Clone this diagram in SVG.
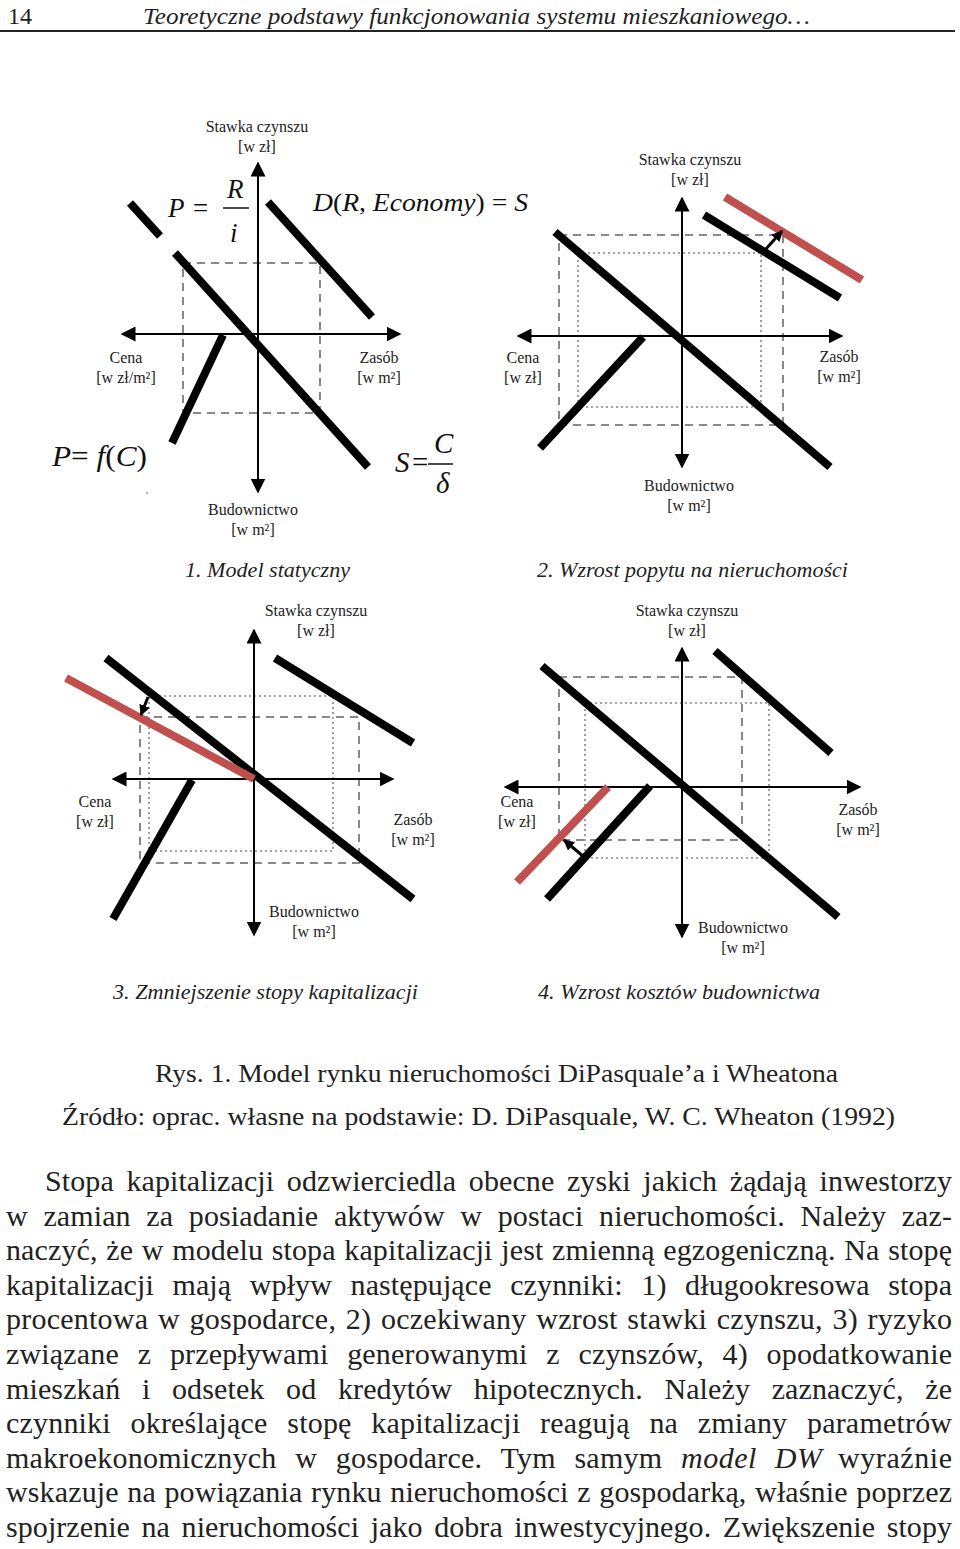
<svg xmlns="http://www.w3.org/2000/svg" width="960" height="1549" viewBox="0 0 960 1549">
<style>
.lbl{font-family:"Liberation Serif",serif;font-size:16px;fill:#222;text-anchor:middle}
.sub{font-family:"Liberation Serif",serif;font-style:italic;font-size:21px;fill:#222}
.m{font-family:"Liberation Serif",serif;font-style:italic;font-size:29px;fill:#111}
.u{font-style:normal}
.thick{stroke:#000;stroke-width:8;fill:none}
.red{stroke:#c0504d;stroke-width:8;fill:none}
.axis{stroke:#000;stroke-width:2;fill:none;marker-start:url(#ah);marker-end:url(#ah)}
.dash{stroke:#888;stroke-width:2;stroke-dasharray:8 6;fill:none}
.dot{stroke:#888;stroke-width:1.6;stroke-dasharray:2 3;fill:none}
.sm{stroke:#000;stroke-width:3;fill:none;marker-end:url(#sa)}
.body{font-family:"Liberation Serif",serif;font-size:30px;fill:#222}
.cap{font-family:"Liberation Serif",serif;font-size:26px;fill:#222}
</style>
<defs>
<marker id="ah" viewBox="0 0 10 10" refX="9" refY="5" markerWidth="15" markerHeight="15" markerUnits="userSpaceOnUse" orient="auto-start-reverse"><path d="M0,0 L10,5 L0,10 z" fill="#000"/></marker>
<marker id="sa" viewBox="0 0 10 10" refX="9" refY="5" markerWidth="11" markerHeight="11" markerUnits="userSpaceOnUse" orient="auto"><path d="M0,0 L10,5 L0,10 z" fill="#000"/></marker>
</defs>
<rect width="960" height="1549" fill="#fff"/>

<g id="header">
<text x="8" y="24" style="font-family:'Liberation Serif',serif;font-size:24px;fill:#222">14</text>
<text x="143" y="24" textLength="667" lengthAdjust="spacingAndGlyphs" style="font-family:'Liberation Serif',serif;font-style:italic;font-size:24px;fill:#222">Teoretyczne podstawy funkcjonowania systemu mieszkaniowego…</text>
<line x1="0" y1="31" x2="955" y2="31" stroke="#222" stroke-width="2"/>
</g>

<g id="panel1">
<rect class="dash" x="183" y="263" width="137" height="150"/>
<line class="axis" x1="258" y1="492" x2="258" y2="163"/>
<line class="axis" x1="122" y1="334" x2="400" y2="334"/>
<line class="thick" x1="130" y1="203" x2="160" y2="236"/>
<line class="thick" x1="175" y1="253" x2="368" y2="467"/>
<line class="thick" x1="268" y1="202" x2="372" y2="317"/>
<line class="thick" x1="223" y1="335" x2="172" y2="443"/>
<text class="lbl" x="257" y="132">Stawka czynszu</text>
<text class="lbl" x="257" y="152">[w zł]</text>
<text class="lbl" x="126" y="363">Cena</text>
<text class="lbl" x="126" y="383">[w zł/m²]</text>
<text class="lbl" x="379" y="363">Zasób</text>
<text class="lbl" x="379" y="383">[w m²]</text>
<text class="lbl" x="253" y="515">Budownictwo</text>
<text class="lbl" x="253" y="535">[w m²]</text>
<text class="m" x="168" y="217" style="font-size:27px">P</text>
<text class="m u" x="193" y="217" style="font-size:27px">=</text>
<text class="m" x="227" y="198" style="font-size:27px">R</text>
<line x1="223" y1="208" x2="249" y2="208" stroke="#111" stroke-width="1.5"/>
<text class="m" x="230" y="242" style="font-size:27px">i</text>
<text class="m" x="313" y="211" style="font-size:26px" textLength="215" lengthAdjust="spacingAndGlyphs">D<tspan class="u">(</tspan>R<tspan class="u">, </tspan>Economy<tspan class="u">) = </tspan>S</text>
<text class="m" x="52" y="466" textLength="95" lengthAdjust="spacingAndGlyphs">P<tspan class="u">= </tspan>f<tspan class="u">(</tspan>C<tspan class="u">)</tspan></text>
<text class="m" x="395" y="472">S</text>
<text class="m u" x="412" y="472">=</text>
<text class="m" x="434" y="453">C</text>
<line x1="428" y1="464" x2="453" y2="464" stroke="#111" stroke-width="1.5"/>
<text class="m" x="436" y="493">δ</text>
<circle cx="147" cy="493" r="0.8" fill="#555"/>
<text class="sub" x="185" y="577" textLength="165" lengthAdjust="spacingAndGlyphs">1. Model statyczny</text>
</g>

<g id="panel2">
<rect class="dash" x="559" y="235" width="224" height="190"/>
<rect class="dot" x="578" y="253" width="183" height="154"/>
<line class="axis" x1="682" y1="467" x2="682" y2="198"/>
<line class="axis" x1="518" y1="336" x2="842" y2="336"/>
<line class="thick" x1="555" y1="232" x2="830" y2="467"/>
<line class="thick" x1="704" y1="215" x2="840" y2="298"/>
<line class="red" x1="725" y1="197" x2="862" y2="280"/>
<line class="thick" x1="643" y1="337" x2="540" y2="448"/>
<line class="sm" x1="765" y1="250" x2="782" y2="231"/>
<text class="lbl" x="690" y="165">Stawka czynszu</text>
<text class="lbl" x="690" y="185">[w zł]</text>
<text class="lbl" x="523" y="363">Cena</text>
<text class="lbl" x="523" y="383">[w zł]</text>
<text class="lbl" x="839" y="362">Zasób</text>
<text class="lbl" x="839" y="382">[w m²]</text>
<text class="lbl" x="689" y="491">Budownictwo</text>
<text class="lbl" x="689" y="511">[w m²]</text>
<text class="sub" x="537" y="577" textLength="311" lengthAdjust="spacingAndGlyphs">2. Wzrost popytu na nieruchomości</text>
</g>

<g id="panel3">
<rect class="dash" x="140" y="717" width="219" height="146"/>
<rect class="dot" x="149" y="696" width="184" height="155"/>
<line class="axis" x1="254" y1="935" x2="254" y2="630"/>
<line class="axis" x1="113" y1="779" x2="393" y2="779"/>
<line class="thick" x1="106" y1="658" x2="413" y2="899"/>
<line class="thick" x1="275" y1="658" x2="413" y2="743"/>
<line class="red" x1="66" y1="678" x2="254" y2="779"/>
<line class="thick" x1="192" y1="780" x2="113" y2="919"/>
<line class="sm" x1="148" y1="697" x2="141" y2="715"/>
<text class="lbl" x="316" y="616">Stawka czynszu</text>
<text class="lbl" x="316" y="636">[w zł]</text>
<text class="lbl" x="95" y="807">Cena</text>
<text class="lbl" x="95" y="827">[w zł]</text>
<text class="lbl" x="413" y="825">Zasób</text>
<text class="lbl" x="413" y="845">[w m²]</text>
<text class="lbl" x="314" y="917">Budownictwo</text>
<text class="lbl" x="314" y="937">[w m²]</text>
<text class="sub" x="113" y="999" textLength="305" lengthAdjust="spacingAndGlyphs">3. Zmniejszenie stopy kapitalizacji</text>
</g>

<g id="panel4">
<rect class="dash" x="559" y="677" width="183" height="163"/>
<rect class="dot" x="585" y="703" width="184" height="155"/>
<line class="axis" x1="682" y1="937" x2="682" y2="648"/>
<line class="axis" x1="505" y1="787" x2="860" y2="787"/>
<line class="thick" x1="542" y1="666" x2="838" y2="917"/>
<line class="thick" x1="715" y1="651" x2="831" y2="753"/>
<line class="thick" x1="650" y1="786" x2="547" y2="899"/>
<line class="red" x1="608" y1="787" x2="517" y2="882"/>
<line class="sm" x1="584" y1="857" x2="564" y2="840"/>
<text class="lbl" x="687" y="616">Stawka czynszu</text>
<text class="lbl" x="687" y="636">[w zł]</text>
<text class="lbl" x="517" y="807">Cena</text>
<text class="lbl" x="517" y="827">[w zł]</text>
<text class="lbl" x="858" y="815">Zasób</text>
<text class="lbl" x="858" y="835">[w m²]</text>
<text class="lbl" x="743" y="933">Budownictwo</text>
<text class="lbl" x="743" y="953">[w m²]</text>
<text class="sub" x="538" y="999" textLength="282" lengthAdjust="spacingAndGlyphs">4. Wzrost kosztów budownictwa</text>
</g>

<g id="caption">
<text class="cap" x="155" y="1082" textLength="683" lengthAdjust="spacingAndGlyphs">Rys. 1. Model rynku nieruchomości DiPasquale’a i Wheatona</text>
<text class="cap" x="62" y="1125" textLength="833" lengthAdjust="spacingAndGlyphs">Źródło: oprac. własne na podstawie: D. DiPasquale, W. C. Wheaton (1992)</text>
</g>

<g id="body">
<text class="body" x="45" y="1191" word-spacing="5" textLength="907" lengthAdjust="spacing">Stopa kapitalizacji odzwierciedla obecne zyski jakich żądają inwestorzy</text>
<text class="body" x="6" y="1226" word-spacing="8" textLength="946" lengthAdjust="spacing">w zamian za posiadanie aktywów w postaci nieruchomości. Należy zaz-</text>
<text class="body" x="6" y="1260" word-spacing="1" textLength="946" lengthAdjust="spacing">naczyć, że w modelu stopa kapitalizacji jest zmienną egzogeniczną. Na stopę</text>
<text class="body" x="6" y="1295" word-spacing="11" textLength="946" lengthAdjust="spacing">kapitalizacji mają wpływ następujące czynniki: 1) długookresowa stopa</text>
<text class="body" x="6" y="1329" word-spacing="2" textLength="946" lengthAdjust="spacing">procentowa w gospodarce, 2) oczekiwany wzrost stawki czynszu, 3) ryzyko</text>
<text class="body" x="6" y="1364" word-spacing="11" textLength="946" lengthAdjust="spacing">związane z przepływami generowanymi z czynszów, 4) opodatkowanie</text>
<text class="body" x="6" y="1399" word-spacing="14" textLength="946" lengthAdjust="spacing">mieszkań i odsetek od kredytów hipotecznych. Należy zaznaczyć, że</text>
<text class="body" x="6" y="1433" word-spacing="12" textLength="946" lengthAdjust="spacing">czynniki określające stopę kapitalizacji reagują na zmiany parametrów</text>
<text class="body" x="6" y="1468" word-spacing="11" textLength="656" lengthAdjust="spacing">makroekonomicznych w gospodarce. Tym samym</text>
<text class="body" x="681" y="1468" word-spacing="10" textLength="141" lengthAdjust="spacing" font-style="italic">model DW</text>
<text class="body" x="838" y="1468" textLength="114" lengthAdjust="spacing">wyraźnie</text>
<text class="body" x="6" y="1502" word-spacing="1" textLength="946" lengthAdjust="spacing">wskazuje na powiązania rynku nieruchomości z gospodarką, właśnie poprzez</text>
<text class="body" x="6" y="1537" word-spacing="4" textLength="946" lengthAdjust="spacing">spojrzenie na nieruchomości jako dobra inwestycyjnego. Zwiększenie stopy</text>
</g>
</svg>
